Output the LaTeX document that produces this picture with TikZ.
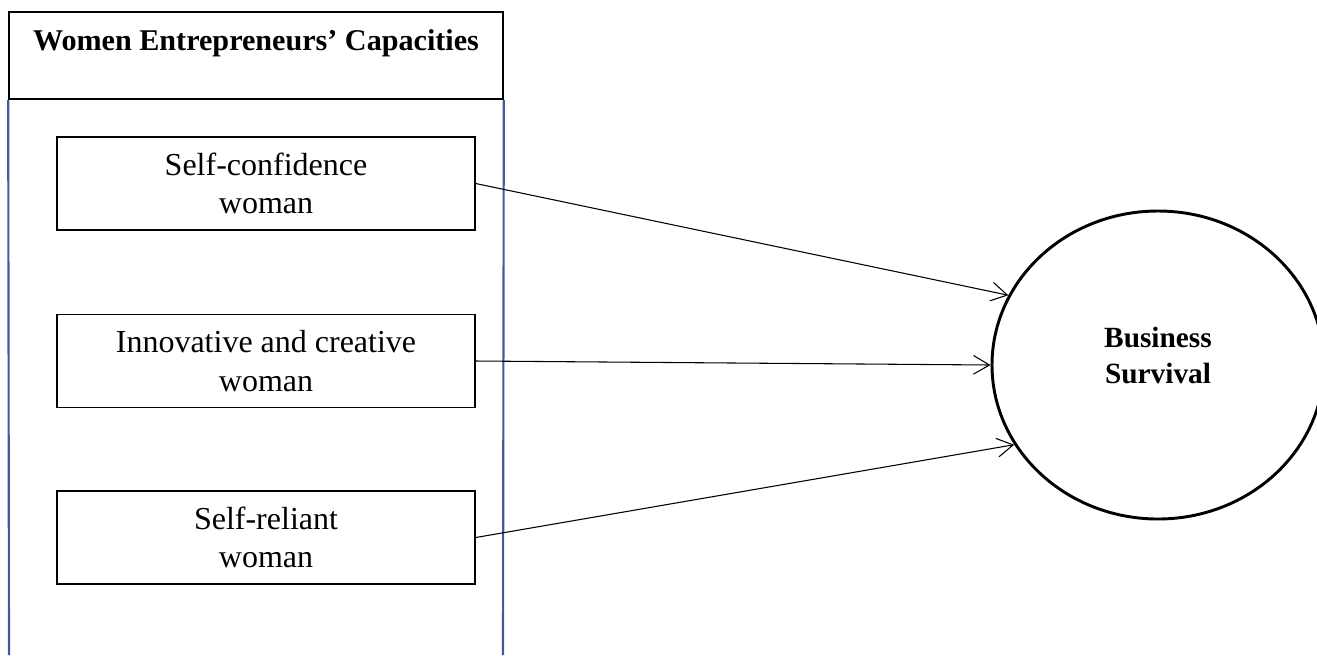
\documentclass[tikz,border=0pt]{standalone}
\usepackage{fontspec}
\setmainfont{Liberation Serif}
\usepackage{tikz}
\usetikzlibrary{positioning,arrows.meta,shapes.geometric}
\definecolor{frameblue}{HTML}{3B5CA3}

\tikzset{
  capbox/.style={draw=black,line width=0.55pt,minimum width=156.75pt,
    minimum height=35pt,align=center,inner sep=0pt,
    font=\fontsize{12}{14.5}\selectfont},
  flow/.style={draw=black,line width=0.4pt,
    -{Straight Barb[length=6pt,width=7pt,line width=0.4pt]}}
}

\begin{document}
\begin{tikzpicture}[x=0.375pt,y=-0.375pt]
  \useasboundingbox (0,0) rectangle (1317,655);

  % header
  \node[draw=black,line width=0.6pt,minimum width=185.25pt,minimum height=32.6pt,
    inner sep=0pt] (hdr) at (256,55.5) {};
  \node[font=\fontsize{11.3}{13}\selectfont\bfseries] (hdrtext) at (256,43)
    {Women Entrepreneurs’ Capacities};

  % blue frame, open at the bottom
  \draw[frameblue,line width=0.8pt] (hdr.south west) -- (9,655);
  \draw[frameblue,line width=0.8pt] (hdr.south east) -- (503,655);

  % capacities
  \node[capbox] (conf) at (266,183.5) {Self-confidence\\woman};
  \node[capbox] (innov) at (266,361) {Innovative and creative\\woman};
  \node[capbox] (rel) at (266,537.5) {Self-reliant\\woman};

  % outcome
  \node[ellipse,draw=black,line width=1.1pt,minimum width=124.5pt,
    minimum height=115.5pt,inner sep=0pt] (surv) at (1158,365) {};
  \node[align=center,font=\fontsize{11}{13.5}\selectfont\bfseries]
    (survtext) at (1158,355) {Business\\Survival};

  \draw[flow] (conf.east) -- (surv.155);
  \draw[flow] (innov.east) -- (surv.180);
  \draw[flow] (rel.east) -- (surv.209);

\end{tikzpicture}
\end{document}
